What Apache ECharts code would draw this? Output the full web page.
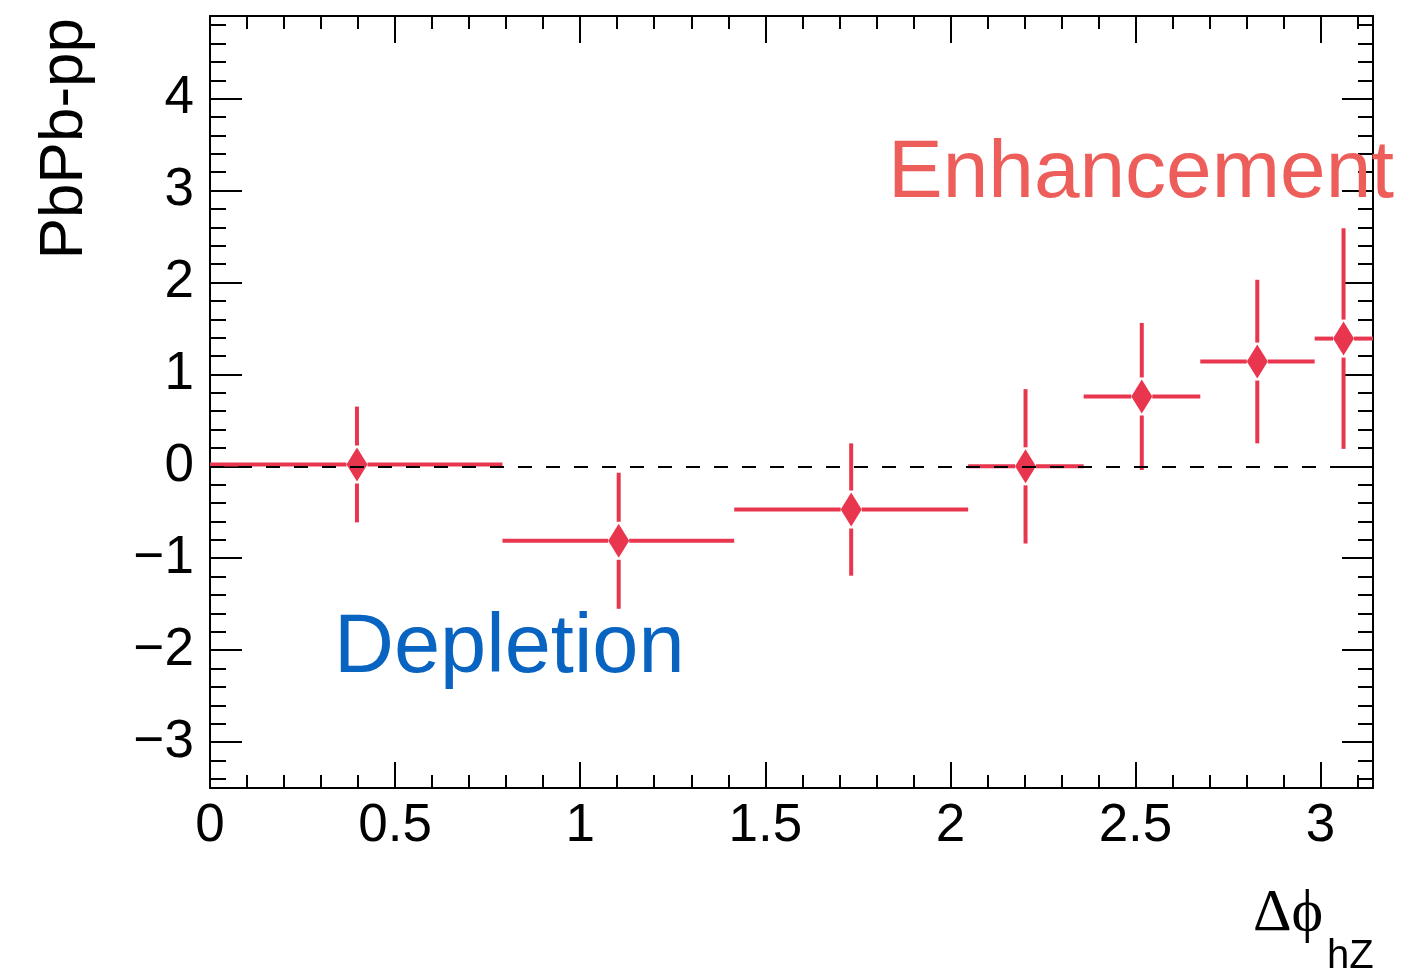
<!DOCTYPE html>
<html>
<head>
<meta charset="utf-8">
<script src="https://cdn.jsdelivr.net/npm/echarts@6/dist/echarts.min.js"></script>
<style>
  html, body { margin: 0; padding: 0; background: #fff; }
  #chart { width: 1409px; height: 974px; }
</style>
</head>
<body>
<div id="chart"></div>
<script>
  // bin centres, bin edges, values and errors
  const xCenter = [0.397, 1.104, 1.732, 2.203, 2.517, 2.829, 3.062];
  const xLow = [0, 0.790, 1.416, 2.048, 2.360, 2.675, 2.984];
  const xHigh = [0.790, 1.416, 2.048, 2.360, 2.675, 2.984, Math.PI];
  const yValue = [0.02, -0.81, -0.47, 0.0, 0.76, 1.14, 1.39];
  const yError = [0.63, 0.74, 0.72, 0.84, 0.80, 0.89, 1.20];

  const xRange = [0, Math.PI];
  const yRange = [-3.5, 4.9];

  const RED = '#E9364F';
  const FONT = "'Liberation Sans', Arial, Helvetica, sans-serif";
  const MARKER_W = 21, MARKER_H = 34;

  const points = xCenter.map((x, i) => [x, yValue[i], xLow[i], xHigh[i], yError[i]]);

  const chart = echarts.init(document.getElementById('chart'));

  function minus(v) {
    return String(v).replace('-', '\u2212');
  }

  function renderErrorBars(params, api) {
    const xc = api.value(0), y = api.value(1);
    const c = api.coord([xc, y]);
    const lo = api.coord([api.value(2), y]);
    const hi = api.coord([api.value(3), y]);
    const top = api.coord([xc, y + api.value(4)]);
    const bot = api.coord([xc, y - api.value(4)]);
    const hw = MARKER_W / 2, hh = MARKER_H / 2 + 2;
    const style = { stroke: RED, lineWidth: 4 };
    return {
      type: 'group',
      children: [
        { type: 'line', shape: { x1: lo[0], y1: c[1], x2: c[0] - hw, y2: c[1] }, style: style },
        { type: 'line', shape: { x1: c[0] + hw, y1: c[1], x2: hi[0], y2: c[1] }, style: style },
        { type: 'line', shape: { x1: c[0], y1: top[1], x2: c[0], y2: c[1] - hh }, style: style },
        { type: 'line', shape: { x1: c[0], y1: c[1] + hh, x2: c[0], y2: bot[1] }, style: style }
      ]
    };
  }

  const lineBlack = { color: '#000', width: 2 };

  function xAxisCfg(pos, showLabels, tickLen, minorLen) {
    return {
      type: 'value',
      position: pos,
      min: xRange[0],
      max: xRange[1],
      interval: 0.5,
      axisLine: { show: true, onZero: false, lineStyle: lineBlack },
      axisTick: { show: true, inside: true, length: tickLen, lineStyle: lineBlack },
      minorTick: { show: true, splitNumber: 5, length: minorLen, lineStyle: lineBlack },
      splitLine: { show: false },
      axisLabel: {
        show: showLabels,
        showMaxLabel: false,
        margin: 12,
        color: '#000',
        fontSize: 53,
        fontFamily: FONT,
        formatter: v => (Math.abs(v * 2 - Math.round(v * 2)) < 1e-6 ? String(v) : '')
      }
    };
  }

  function yAxisCfg(pos, showLabels, tickLen, minorLen) {
    return {
      type: 'value',
      position: pos,
      min: yRange[0],
      max: yRange[1],
      splitNumber: 8,
      axisLine: { show: true, onZero: false, lineStyle: lineBlack },
      axisTick: { show: true, inside: true, length: tickLen, lineStyle: lineBlack },
      minorTick: { show: true, splitNumber: 5, length: minorLen, lineStyle: lineBlack },
      splitLine: { show: false },
      axisLabel: {
        show: showLabels,
        showMinLabel: false,
        showMaxLabel: false,
        margin: 16,
        padding: [6, 0, 0, 0],
        color: '#000',
        fontSize: 53,
        fontFamily: FONT,
        formatter: v => (Math.abs(v - Math.round(v)) < 1e-6 ? minus(v) : '')
      }
    };
  }

  const option = {
    backgroundColor: '#fff',
    animation: false,
    grid: { left: 210, right: 36, top: 16, bottom: 186, containLabel: false, outerBoundsMode: 'none' },
    xAxis: [
      xAxisCfg('bottom', true, 26, 13),
      xAxisCfg('top', false, 27, 13)
    ],
    yAxis: [
      yAxisCfg('left', true, 32, 16),
      yAxisCfg('right', false, 31, 15)
    ],
    graphic: [
      {
        type: 'text', x: 65, y: 18, rotation: Math.PI / 2, z: 10,
        style: { text: 'PbPb-pp', font: "62px " + FONT, fill: '#000', align: 'right', verticalAlign: 'middle' }
      },
      {
        type: 'text', x: 1253, y: 914, z: 10,
        style: { text: '\u0394\u03d5', font: "60px 'Liberation Serif', 'DejaVu Serif', serif", fill: '#000', align: 'left', verticalAlign: 'middle' }
      },
      {
        type: 'text', x: 1327, y: 957, z: 10,
        style: { text: 'hZ', font: "40px " + FONT, fill: '#000', align: 'left', verticalAlign: 'middle' }
      },
      {
        type: 'text', x: 888, y: 174, z: 10,
        style: { text: 'Enhancement', font: "82px " + FONT, fill: '#ED5E5A', align: 'left', verticalAlign: 'middle' }
      },
      {
        type: 'text', x: 334, y: 649, z: 10,
        style: { text: 'Depletion', font: "83px " + FONT, fill: '#0864C0', align: 'left', verticalAlign: 'middle' }
      }
    ],
    series: [
      {
        name: 'zero',
        type: 'line',
        data: [],
        z: 1,
        markLine: {
          silent: true,
          symbol: 'none',
          label: { show: false },
          lineStyle: { color: '#000', width: 2, type: [14, 14] },
          data: [{ yAxis: 0 }]
        }
      },
      {
        name: 'errors',
        type: 'custom',
        z: 3,
        clip: false,
        renderItem: renderErrorBars,
        encode: { x: 0, y: 1 },
        data: points
      },
      {
        name: 'PbPb-pp',
        type: 'scatter',
        z: 4,
        symbol: 'diamond',
        symbolSize: [MARKER_W, MARKER_H],
        itemStyle: { color: RED, opacity: 1 },
        data: points.map(p => [p[0], p[1]])
      }
    ]
  };

  chart.setOption(option);
</script>
</body>
</html>
